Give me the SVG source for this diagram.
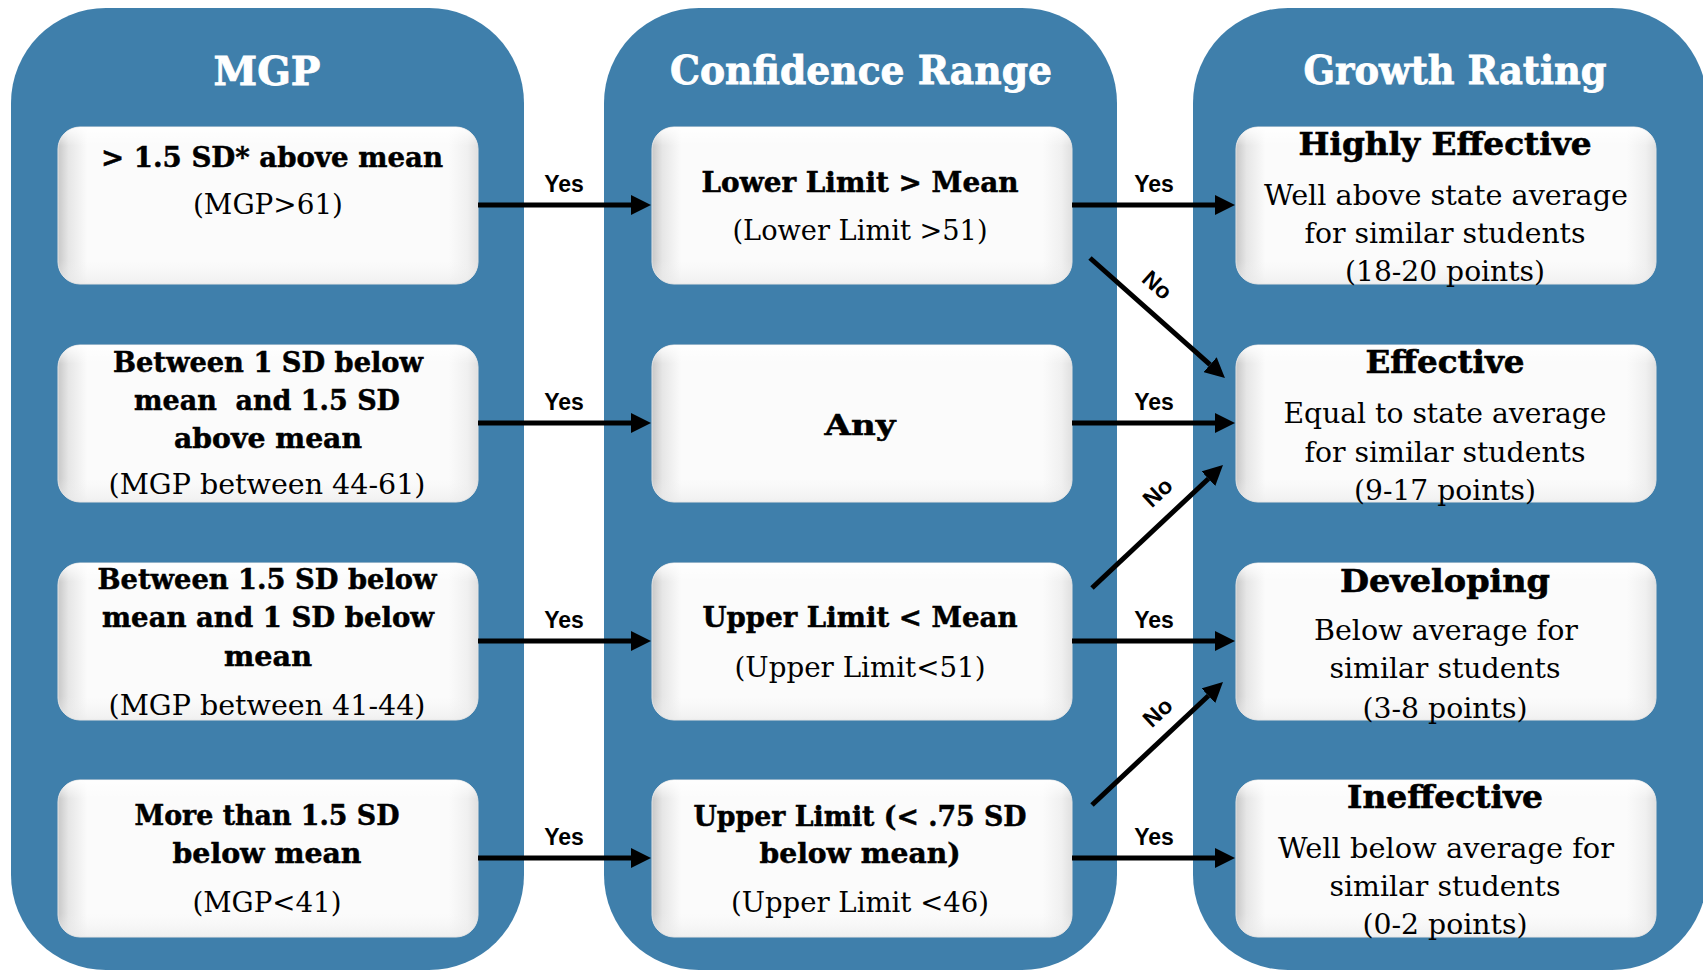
<svg xmlns="http://www.w3.org/2000/svg" width="1703" height="971" viewBox="0 0 1703 971">
<defs>
<style>
.panel{fill:#3f7fab}
.box{fill:url(#bx);stroke:#e4e4e4;stroke-width:1}
.shade{fill:url(#bv)}
.t{font-family:"DejaVu Serif",serif;font-weight:bold;font-size:39px;fill:#fff;stroke:#fff;stroke-width:0.8;text-anchor:middle}
.b{font-family:"DejaVu Serif",serif;font-weight:bold;font-size:28px;fill:#000;stroke:#000;stroke-width:0.5;text-anchor:middle}
.h{font-family:"DejaVu Serif",serif;font-weight:bold;font-size:32px;fill:#000;stroke:#000;stroke-width:0.6;text-anchor:middle}
.r{font-family:"DejaVu Serif",serif;font-size:28px;fill:#000;text-anchor:middle}
.y{font-family:"Liberation Sans",Arial,sans-serif;font-weight:bold;font-size:23px;fill:#000;text-anchor:middle}
.c{stroke:#000;stroke-width:5;fill:none;marker-end:url(#ah)}
</style>
<linearGradient id="bx" x1="0" y1="0" x2="1" y2="0">
<stop offset="0" stop-color="#c8c8c8"/>
<stop offset="0.025" stop-color="#e6e6e6"/>
<stop offset="0.07" stop-color="#fbfbfb"/>
<stop offset="0.93" stop-color="#fbfbfb"/>
<stop offset="0.975" stop-color="#f0f0f0"/>
<stop offset="1" stop-color="#e0e0e0"/>
</linearGradient>
<linearGradient id="bv" x1="0" y1="0" x2="0" y2="1">
<stop offset="0" stop-color="#ffffff" stop-opacity="0.9"/>
<stop offset="0.12" stop-color="#ffffff" stop-opacity="0"/>
<stop offset="0.85" stop-color="#f2f2f2" stop-opacity="0"/>
<stop offset="1" stop-color="#e8e8e8" stop-opacity="0.6"/>
</linearGradient>
<marker id="ah" markerUnits="userSpaceOnUse" markerWidth="20" markerHeight="20" refX="0" refY="10" orient="auto">
<path d="M0,0 L20,10 L0,20 z" fill="#000"/>
</marker>
</defs>
<rect width="1703" height="971" fill="#fff"/>

<g id="col-mgp">
<rect class="panel" x="11" y="8" width="513" height="962" rx="95" ry="95"/>
<text class="t" x="267" y="85" textLength="107" lengthAdjust="spacingAndGlyphs">MGP</text>
</g>
<g id="col-confidence">
<rect class="panel" x="604" y="8" width="513" height="962" rx="95" ry="95"/>
<text class="t" x="861" y="84" textLength="382" lengthAdjust="spacingAndGlyphs">Confidence Range</text>
</g>
<g id="col-growth">
<rect class="panel" x="1193" y="8" width="514" height="962" rx="95" ry="95"/>
<text class="t" x="1455" y="84" textLength="303" lengthAdjust="spacingAndGlyphs">Growth Rating</text>
</g>

<g id="mgp1">
<rect class="box" x="58" y="127" width="420" height="157" rx="22"/>
<rect class="shade" x="58" y="127" width="420" height="157" rx="22"/>
<text class="b" x="272" y="167" textLength="342" lengthAdjust="spacingAndGlyphs">&gt; 1.5 SD* above mean</text>
<text class="r" x="268" y="214" textLength="150" lengthAdjust="spacingAndGlyphs">(MGP&gt;61)</text>
</g>
<g id="mgp2">
<rect class="box" x="58" y="345" width="420" height="157" rx="22"/>
<rect class="shade" x="58" y="345" width="420" height="157" rx="22"/>
<text class="b" x="268" y="372" textLength="310" lengthAdjust="spacingAndGlyphs">Between 1 SD below</text>
<text class="b" x="267" y="410" textLength="266" lengthAdjust="spacingAndGlyphs" xml:space="preserve">mean  and 1.5 SD</text>
<text class="b" x="268" y="448" textLength="188" lengthAdjust="spacingAndGlyphs">above mean</text>
<text class="r" x="267" y="494" textLength="317" lengthAdjust="spacingAndGlyphs">(MGP between 44-61)</text>
</g>
<g id="mgp3">
<rect class="box" x="58" y="563" width="420" height="157" rx="22"/>
<rect class="shade" x="58" y="563" width="420" height="157" rx="22"/>
<text class="b" x="267" y="589" textLength="339" lengthAdjust="spacingAndGlyphs">Between 1.5 SD below</text>
<text class="b" x="268" y="627" textLength="332" lengthAdjust="spacingAndGlyphs">mean and 1 SD below</text>
<text class="b" x="268" y="666" textLength="88" lengthAdjust="spacingAndGlyphs">mean</text>
<text class="r" x="267" y="715" textLength="317" lengthAdjust="spacingAndGlyphs">(MGP between 41-44)</text>
</g>
<g id="mgp4">
<rect class="box" x="58" y="780" width="420" height="157" rx="22"/>
<rect class="shade" x="58" y="780" width="420" height="157" rx="22"/>
<text class="b" x="267" y="825" textLength="265" lengthAdjust="spacingAndGlyphs">More than 1.5 SD</text>
<text class="b" x="267" y="863" textLength="189" lengthAdjust="spacingAndGlyphs">below mean</text>
<text class="r" x="267" y="912" textLength="149" lengthAdjust="spacingAndGlyphs">(MGP&lt;41)</text>
</g>

<g id="cr1">
<rect class="box" x="652" y="127" width="420" height="157" rx="22"/>
<rect class="shade" x="652" y="127" width="420" height="157" rx="22"/>
<text class="b" x="860" y="192" textLength="317" lengthAdjust="spacingAndGlyphs">Lower Limit &gt; Mean</text>
<text class="r" x="860" y="240" textLength="255" lengthAdjust="spacingAndGlyphs">(Lower Limit &gt;51)</text>
</g>
<g id="cr2">
<rect class="box" x="652" y="345" width="420" height="157" rx="22"/>
<rect class="shade" x="652" y="345" width="420" height="157" rx="22"/>
<text class="b" x="860" y="435" font-size="32" textLength="71" lengthAdjust="spacingAndGlyphs">Any</text>
</g>
<g id="cr3">
<rect class="box" x="652" y="563" width="420" height="157" rx="22"/>
<rect class="shade" x="652" y="563" width="420" height="157" rx="22"/>
<text class="b" x="860" y="627" textLength="315" lengthAdjust="spacingAndGlyphs">Upper Limit &lt; Mean</text>
<text class="r" x="860" y="677" textLength="251" lengthAdjust="spacingAndGlyphs">(Upper Limit&lt;51)</text>
</g>
<g id="cr4">
<rect class="box" x="652" y="780" width="420" height="157" rx="22"/>
<rect class="shade" x="652" y="780" width="420" height="157" rx="22"/>
<text class="b" x="860" y="826" textLength="333" lengthAdjust="spacingAndGlyphs">Upper Limit (&lt; .75 SD</text>
<text class="b" x="860" y="863" textLength="201" lengthAdjust="spacingAndGlyphs">below mean)</text>
<text class="r" x="860" y="912" textLength="258" lengthAdjust="spacingAndGlyphs">(Upper Limit &lt;46)</text>
</g>

<g id="gr1">
<rect class="box" x="1236" y="127" width="420" height="157" rx="22"/>
<rect class="shade" x="1236" y="127" width="420" height="157" rx="22"/>
<text class="h" x="1445" y="155" textLength="293" lengthAdjust="spacingAndGlyphs">Highly Effective</text>
<text class="r" x="1446" y="205" textLength="364" lengthAdjust="spacingAndGlyphs">Well above state average</text>
<text class="r" x="1445" y="243" textLength="281" lengthAdjust="spacingAndGlyphs">for similar students</text>
<text class="r" x="1445" y="281" textLength="200" lengthAdjust="spacingAndGlyphs">(18-20 points)</text>
</g>
<g id="gr2">
<rect class="box" x="1236" y="345" width="420" height="157" rx="22"/>
<rect class="shade" x="1236" y="345" width="420" height="157" rx="22"/>
<text class="h" x="1445" y="373" textLength="159" lengthAdjust="spacingAndGlyphs">Effective</text>
<text class="r" x="1445" y="423" textLength="323" lengthAdjust="spacingAndGlyphs">Equal to state average</text>
<text class="r" x="1445" y="462" textLength="281" lengthAdjust="spacingAndGlyphs">for similar students</text>
<text class="r" x="1445" y="500" textLength="182" lengthAdjust="spacingAndGlyphs">(9-17 points)</text>
</g>
<g id="gr3">
<rect class="box" x="1236" y="563" width="420" height="157" rx="22"/>
<rect class="shade" x="1236" y="563" width="420" height="157" rx="22"/>
<text class="h" x="1445" y="592" textLength="210" lengthAdjust="spacingAndGlyphs">Developing</text>
<text class="r" x="1446" y="640" textLength="264" lengthAdjust="spacingAndGlyphs">Below average for</text>
<text class="r" x="1445" y="678" textLength="231" lengthAdjust="spacingAndGlyphs">similar students</text>
<text class="r" x="1445" y="718" textLength="165" lengthAdjust="spacingAndGlyphs">(3-8 points)</text>
</g>
<g id="gr4">
<rect class="box" x="1236" y="780" width="420" height="157" rx="22"/>
<rect class="shade" x="1236" y="780" width="420" height="157" rx="22"/>
<text class="h" x="1445" y="808" textLength="196" lengthAdjust="spacingAndGlyphs">Ineffective</text>
<text class="r" x="1446" y="858" textLength="336" lengthAdjust="spacingAndGlyphs">Well below average for</text>
<text class="r" x="1445" y="896" textLength="231" lengthAdjust="spacingAndGlyphs">similar students</text>
<text class="r" x="1445" y="934" textLength="165" lengthAdjust="spacingAndGlyphs">(0-2 points)</text>
</g>

<g id="connectors">
<line class="c" x1="478" y1="205" x2="631" y2="205"/>
<line class="c" x1="478" y1="423" x2="631" y2="423"/>
<line class="c" x1="478" y1="641" x2="631" y2="641"/>
<line class="c" x1="478" y1="858" x2="631" y2="858"/>
<line class="c" x1="1072" y1="205" x2="1215" y2="205"/>
<line class="c" x1="1072" y1="423" x2="1215" y2="423"/>
<line class="c" x1="1072" y1="641" x2="1215" y2="641"/>
<line class="c" x1="1072" y1="858" x2="1215" y2="858"/>
<line class="c" x1="1090" y1="258" x2="1210" y2="364.7"/>
<line class="c" x1="1092" y1="588" x2="1208.4" y2="478.7"/>
<line class="c" x1="1092" y1="805" x2="1208.4" y2="695.7"/>
<text class="y" x="564" y="192">Yes</text>
<text class="y" x="564" y="410">Yes</text>
<text class="y" x="564" y="628">Yes</text>
<text class="y" x="564" y="845">Yes</text>
<text class="y" x="1154" y="192">Yes</text>
<text class="y" x="1154" y="410">Yes</text>
<text class="y" x="1154" y="628">Yes</text>
<text class="y" x="1154" y="845">Yes</text>
<text class="y" font-size="25" transform="translate(1152,291) rotate(42)">No</text>
<text class="y" font-size="25" transform="translate(1163,498) rotate(-43)">No</text>
<text class="y" font-size="25" transform="translate(1163,718) rotate(-43)">No</text>
</g>
</svg>
